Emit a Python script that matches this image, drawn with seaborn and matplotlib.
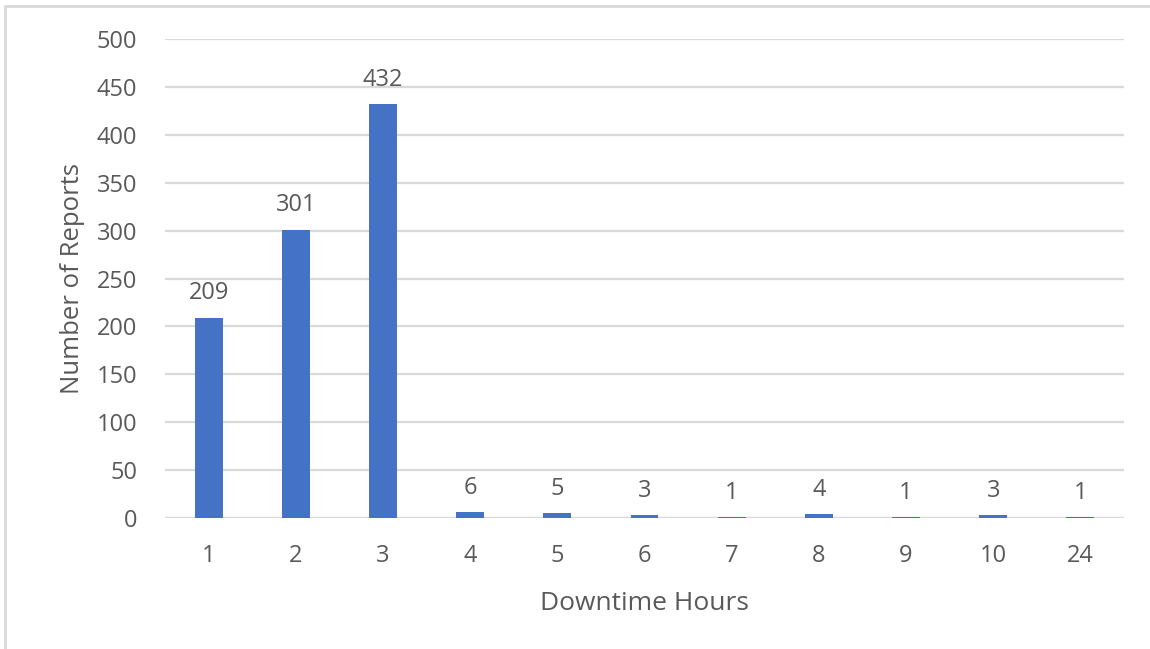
import matplotlib
matplotlib.use("Agg")
import matplotlib.pyplot as plt
import seaborn as sns
import pandas as pd

hours = ["1", "2", "3", "4", "5", "6", "7", "8", "9", "10", "24"]
reports = [209, 301, 432, 6, 5, 3, 1, 4, 1, 3, 1]
y_ticks = [0, 50, 100, 150, 200, 250, 300, 350, 400, 450, 500]

sns.set_theme(style="white")
plt.rcParams["font.family"] = ["Open Sans", "DejaVu Sans"]

TEXT = "#595959"
GRID = "#d9d9d9"
BAR = "#4472C4"

df = pd.DataFrame({"hours": hours, "reports": reports})

fig = plt.figure(figsize=(11.5, 6.49), dpi=100)
ax = fig.add_axes([165 / 1150, 1 - 518 / 649, 959 / 1150, 479 / 649])

sns.barplot(data=df, x="hours", y="reports", color=BAR, width=0.32,
            saturation=1, linewidth=0, ax=ax, zorder=3)

ax.set_ylim(0, 500)
ax.set_yticks(y_ticks)
ax.set_xlim(-0.5, len(hours) - 0.5)
ax.yaxis.grid(True, color=GRID, linewidth=1.6, zorder=0)
ax.set_axisbelow(True)
for s in ax.spines.values():
    s.set_visible(False)
ax.axhline(0, color=GRID, linewidth=1.6, zorder=2)

ax.tick_params(axis="both", length=0, labelsize=17, colors=TEXT)
ax.tick_params(axis="y", pad=20)
ax.tick_params(axis="x", pad=19)

ax.set_xlabel("Downtime Hours", fontsize=19, color=TEXT, labelpad=16)
ax.set_ylabel("Number of Reports", fontsize=18.5, color=TEXT, labelpad=8)

for i, v in enumerate(reports):
    ax.annotate(str(v), (i, v), xytext=(0, 9), textcoords="offset points",
                ha="center", va="bottom", fontsize=17, color=TEXT)

# light frame around the chart area
fig.add_artist(plt.Line2D([5 / 1150, 1], [1 - 6 / 649, 1 - 6 / 649],
                          color=GRID, linewidth=2, transform=fig.transFigure))
fig.add_artist(plt.Line2D([5 / 1150, 5 / 1150], [0, 1 - 6 / 649],
                          color=GRID, linewidth=2, transform=fig.transFigure))

fig.savefig("out.png", dpi=100, facecolor="white")
